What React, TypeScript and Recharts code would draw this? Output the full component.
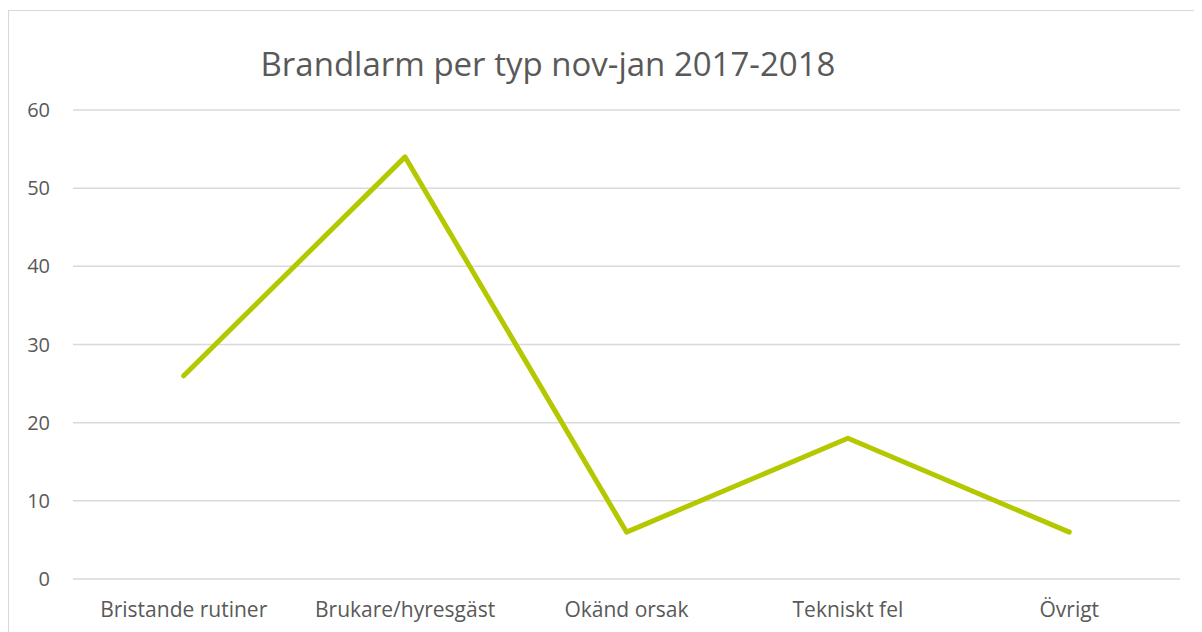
import { LineChart, Line, XAxis, YAxis, CartesianGrid } from "recharts";

const categories = ["Bristande rutiner", "Brukare/hyresgäst", "Okänd orsak", "Tekniskt fel", "Övrigt"];
const larmValues = [26, 54, 6, 18, 6];
const yTicks = [0, 10, 20, 30, 40, 50, 60];

const data = categories.map((name, i) => ({ name, larm: larmValues[i] }));

const textColor = "#595959";
const font = "'Open Sans', sans-serif";

export default function App() {
  return (
    <div
      style={{
        position: "relative",
        marginTop: 2,
        width: 1210,
        height: 640,
        border: "1px solid #d9d9d9",
        overflow: "hidden",
        background: "#fff",
        fontFamily: font,
      }}
    >
      <div
        style={{
          position: "absolute",
          left: 239,
          top: 30,
          width: 600,
          textAlign: "center",
          fontSize: 33,
          lineHeight: "45px",
          color: textColor,
          whiteSpace: "nowrap",
        }}
      >
        Brandlarm per typ nov-jan 2017-2018
      </div>
      <LineChart
        width={1193}
        height={621}
        data={data}
        margin={{ top: 99, right: 22, left: 0, bottom: 13 }}
      >
        <CartesianGrid vertical={false} stroke="#d9d9d9" strokeWidth={1.5} />
        <XAxis
          dataKey="name"
          axisLine={false}
          tickLine={false}
          tickMargin={17}
          height={40}
          padding={{ left: 110.7, right: 110.7 }}
          interval={0}
          tick={{ fontSize: 21, fill: textColor, fontFamily: font }}
        />
        <YAxis
          domain={[0, 60]}
          ticks={yTicks}
          width={64}
          axisLine={false}
          tickLine={false}
          tickMargin={17}
          tick={{ fontSize: 20, fill: textColor, fontFamily: font }}
        />
        <Line
          dataKey="larm"
          stroke="#b4c800"
          strokeWidth={5}
          strokeLinecap="round"
          strokeLinejoin="round"
          dot={false}
          activeDot={false}
          isAnimationActive={false}
        />
      </LineChart>
    </div>
  );
}
